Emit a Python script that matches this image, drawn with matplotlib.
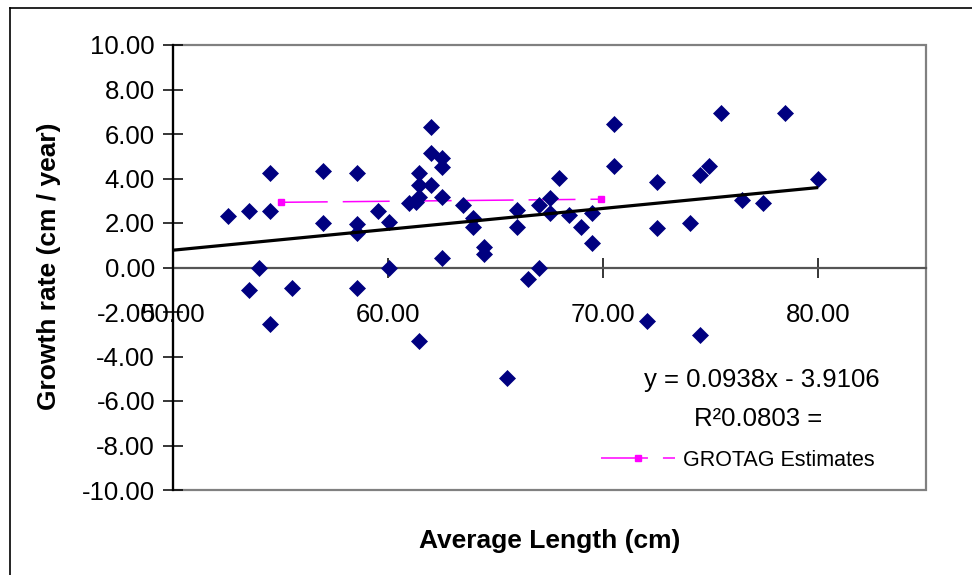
import matplotlib
matplotlib.use("Agg")
import matplotlib.pyplot as plt
from matplotlib.lines import Line2D
from matplotlib.patches import Rectangle

plt.rcParams['font.family'] = ['Liberation Sans', 'DejaVu Sans']
plt.rcParams['lines.scale_dashes'] = False

# ---- data ----
avg_length = [52.56, 53.54, 53.54, 53.99, 54.50, 54.50, 54.50, 55.50, 56.98, 56.98,
              58.53, 58.53, 58.53, 58.53, 59.53, 60.03, 60.03, 60.95, 61.44, 61.44,
              61.44, 61.30, 61.44, 61.97, 61.97, 61.97, 62.48, 62.48, 62.48, 62.48,
              63.46, 63.95, 63.95, 64.45, 64.45, 65.51, 66.00, 66.00, 66.51, 67.02,
              67.02, 67.52, 67.52, 67.94, 68.43, 68.96, 69.46, 69.46, 70.48, 70.48,
              72.02, 72.50, 72.50, 74.03, 74.50, 74.50, 74.93, 75.46, 76.45, 77.44,
              78.47, 79.97]
growth_rate = [2.33, 2.55, -1.01, -0.04, 4.26, 2.55, -2.54, -0.91, 4.34, 2.01,
               4.26, 1.96, 1.54, -0.91, 2.55, 2.06, -0.04, 2.89, 4.26, 3.71,
               3.18, 2.96, -3.29, 6.30, 5.16, 3.71, 4.93, 4.50, 3.15, 0.44,
               2.81, 2.21, 1.81, 0.94, 0.61, -4.98, 2.58, 1.81, -0.53, -0.04,
               2.81, 3.11, 2.44, 4.04, 2.36, 1.83, 2.46, 1.11, 6.46, 4.58,
               -2.39, 3.86, 1.76, 2.01, 4.16, -3.03, 4.58, 6.93, 3.03, 2.89,
               6.93, 3.98]

grotag_x = [55.0, 69.9]
grotag_y = [2.93, 3.07]

trend_slope = 0.0938
trend_intercept = -3.9106
trend_x = [50.0, 80.0]

x_ticks = [50, 60, 70, 80]
y_ticks = [-10, -8, -6, -4, -2, 0, 2, 4, 6, 8, 10]

eq_text = "y = 0.0938x - 3.9106"
r2_text = "R\u00b20.0803 ="
legend_label = "GROTAG Estimates"
xlabel = "Average Length (cm)"
ylabel = "Growth rate (cm / year)"

# ---- figure ----
W, H = 972, 575
fig = plt.figure(figsize=(W / 100, H / 100), dpi=100)
L, R, T, B = 173.3, 925.7, 45.0, 490.0
ax = fig.add_axes([L / W, 1 - B / H, (R - L) / W, (B - T) / H])
ax.set_xlim(50, 85)
ax.set_ylim(-10, 10)

# GROTAG series
g_line, = ax.plot(grotag_x, grotag_y, color='#FF00FF', lw=1.1, dashes=(33.8, 10.8),
                  marker='s', markersize=5, markeredgecolor='#FF00FF', zorder=3,
                  label=legend_label)
# observations
ax.plot(avg_length, growth_rate, linestyle='none', marker='D', markersize=8.6,
        color='#000080', markeredgecolor='#000080', markeredgewidth=0.5, zorder=4)
# trendline
ty = [trend_slope * x + trend_intercept for x in trend_x]
ax.plot(trend_x, ty, color='black', lw=2.3, zorder=5, solid_capstyle='butt')

# frame
for s in ['top', 'right']:
    ax.spines[s].set_visible(False)
ax.add_patch(Rectangle((0, 0), 1, 1, transform=ax.transAxes, fill=False,
                       edgecolor='#808080', lw=1.6, clip_on=False, zorder=1))
ax.spines['left'].set_color('black')
ax.spines['left'].set_linewidth(1.6)
ax.spines['left'].set_zorder(6)
ax.spines['bottom'].set_position(('data', 0))
ax.spines['bottom'].set_color('#555555')
ax.spines['bottom'].set_linewidth(1.6)
ax.spines['bottom'].set_zorder(2)

ax.set_xticks(x_ticks)
ax.set_xticklabels([f"{v:.2f}" for v in x_ticks])
ax.set_yticks(y_ticks)
ax.set_yticklabels([f"{v:.2f}" for v in y_ticks])
ax.tick_params(axis='both', direction='inout', length=13.7, width=1.1, color='black',
               labelsize=18.5, labelcolor='black')
ax.tick_params(axis='x', pad=18.7)
ax.tick_params(axis='y', pad=6.3)

# equation texts
ax.text(77.38, -5.36, eq_text, ha='center', va='baseline', fontsize=18.5)
ax.text(77.21, -7.12, r2_text, ha='center', va='baseline', fontsize=18.5)

# legend
fs_leg = 15.5
leg = ax.legend(handles=[g_line], loc='center left',
                bbox_to_anchor=(601 / W, 1 - 460.5 / H), bbox_transform=fig.transFigure,
                frameon=False, fontsize=fs_leg, handlelength=3.44, handletextpad=0.37,
                borderpad=0, borderaxespad=0)

# axis titles
fig.text(549.5 / W, 1 - 541 / H, xlabel, ha='center', va='center', fontsize=19,
         fontweight='bold')
fig.text(49 / W, 1 - 266 / H, ylabel, ha='center', va='center', fontsize=19,
         fontweight='bold', rotation=90)

# outer chart border (left and top visible)
fig.add_artist(Line2D([10 / W, 10 / W], [1 - 8 / H, 0], transform=fig.transFigure,
                      color='black', lw=1.2))
fig.add_artist(Line2D([10 / W, 1], [1 - 8 / H, 1 - 8 / H], transform=fig.transFigure,
                      color='black', lw=1.2))

fig.savefig("out.png", dpi=100)
